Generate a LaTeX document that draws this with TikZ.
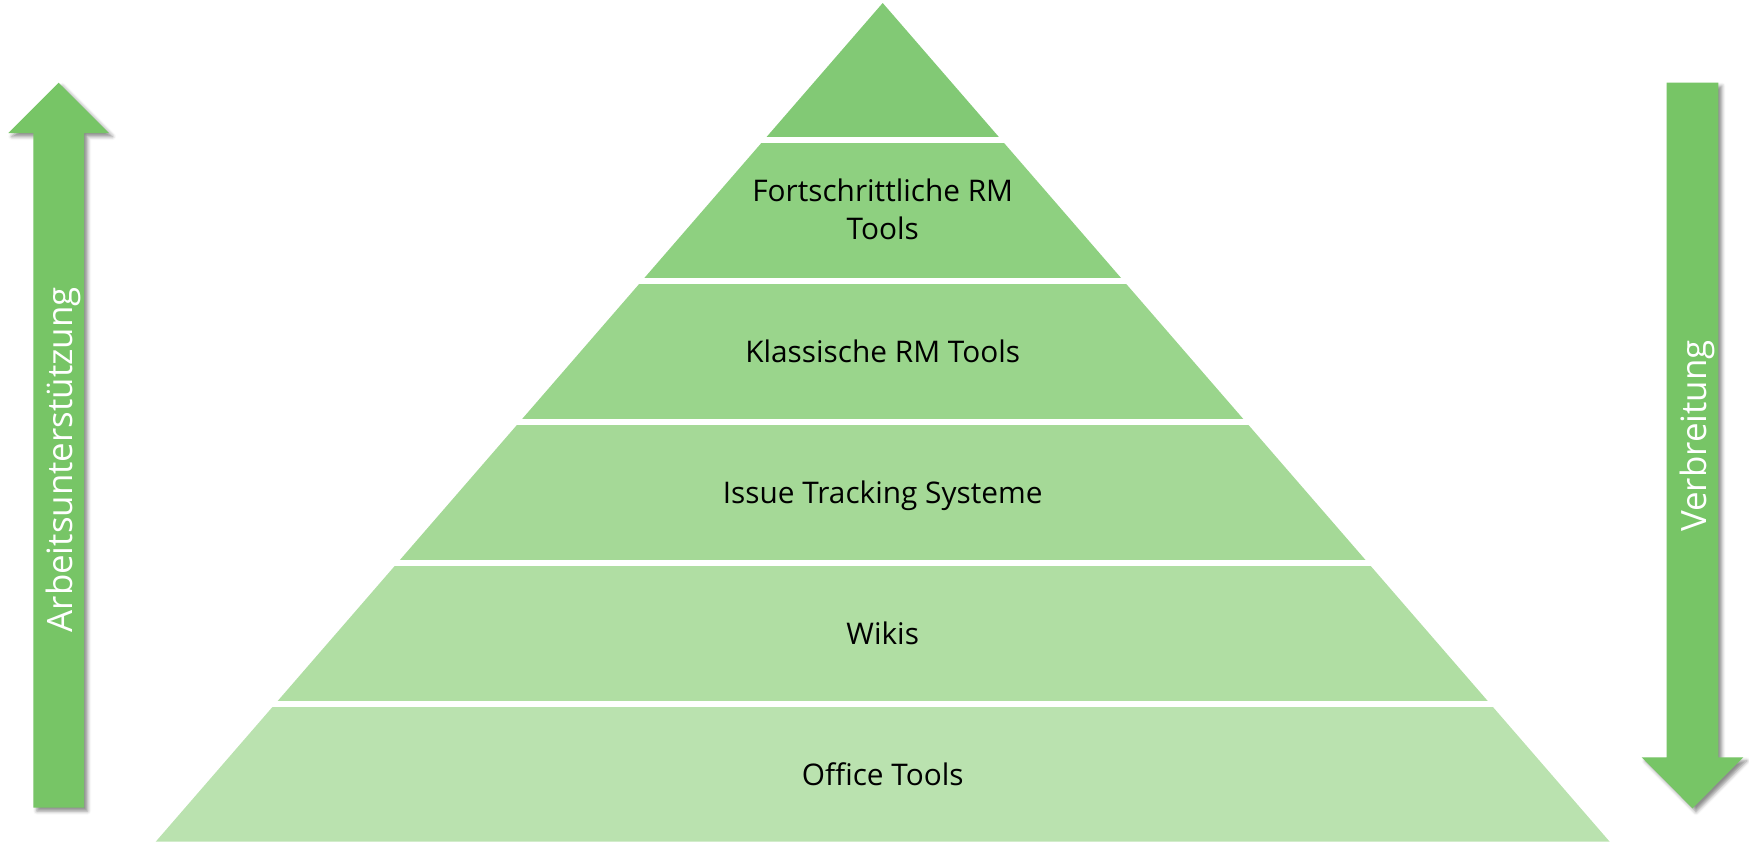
\documentclass[tikz,border=0pt]{standalone}
\usepackage{fontspec}
\setmainfont{Open Sans}
\usetikzlibrary{shadows.blur}
\definecolor{lvtop}{RGB}{130,201,117}
\definecolor{lvone}{RGB}{142,208,128}
\definecolor{lvtwo}{RGB}{154,213,140}
\definecolor{lvthree}{RGB}{165,217,151}
\definecolor{lvfour}{RGB}{176,222,163}
\definecolor{lvfive}{RGB}{186,226,175}
\definecolor{arrowgreen}{RGB}{119,197,102}
\tikzset{
  bandlabel/.style={anchor=base, inner sep=0pt, font=\fontsize{29.8}{38}\selectfont, text=black},
  arrowlabel/.style={anchor=base west, inner sep=0pt, rotate=90, font=\fontsize{34.9}{40}\selectfont, text=white},
  bigarrow/.style={fill=arrowgreen, draw=none, blur shadow={shadow xshift=3.5pt, shadow yshift=-3.5pt, shadow blur radius=3.5pt, shadow opacity=45}}
}
\begin{document}
\begin{tikzpicture}[x=1pt,y=-1pt]
\useasboundingbox (0,0) rectangle (1749,844);
% pyramid
\begin{scope}
  \clip (882.7,3) -- (1609.7,841.7) -- (155.7,841.7) -- cycle;
  \fill[lvtop]   (0,0)     rectangle (1749,136.7);
  \fill[lvone]   (0,142.7) rectangle (1749,277.7);
  \fill[lvtwo]   (0,283.7) rectangle (1749,418.7);
  \fill[lvthree] (0,424.7) rectangle (1749,559.7);
  \fill[lvfour]  (0,565.7) rectangle (1749,700.7);
  \fill[lvfive]  (0,706.7) rectangle (1749,841.7);
\end{scope}
\node[bandlabel] (fortA) at (882.7,201) {Fortschrittliche RM};
\node[bandlabel] (fortB) at (882.7,239.3) {Tools};
\node[bandlabel] (klass) at (882.7,362.3) {Klassische RM Tools};
\node[bandlabel] (issue) at (882.7,503.3) {Issue Tracking Systeme};
\node[bandlabel] (wikis) at (882.7,644.3) {Wikis};
\node[bandlabel] (office) at (882.7,785.3) {Office Tools};
% left arrow (up)
\path[bigarrow] (58.7,82.7) -- (109,133) -- (84,133) -- (84,807.6) -- (33.3,807.6) -- (33.3,133) -- (8.3,133) -- cycle;
\node[arrowlabel] (arbeit) at (72.7,632.5) {Arbeitsunterstützung};
% right arrow (down)
\path[bigarrow] (1666.7,82.5) -- (1718.3,82.5) -- (1718.3,757.3) -- (1743.3,757.3) -- (1692.5,808.3) -- (1641.7,757.3) -- (1666.7,757.3) -- cycle;
\node[arrowlabel] (verbr) at (1706,532) {Verbreitung};
\end{tikzpicture}
\end{document}
